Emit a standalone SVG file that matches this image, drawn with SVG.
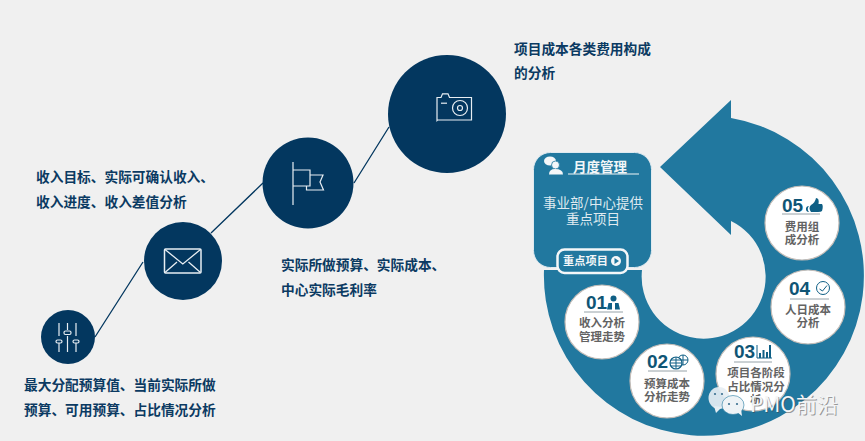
<svg xmlns="http://www.w3.org/2000/svg" width="865" height="441" viewBox="0 0 865 441">
<style>
text{font-family:"Noto Sans CJK SC","Liberation Sans",sans-serif}
.big{fill:#03375f}
.cap{font-size:13.7px;font-weight:700;fill:#0b3a62}
.ic{fill:none;stroke:#e8eef3;stroke-width:1.2}
.disc{fill:#fff;stroke:#c4bdb8;stroke-width:1.2}
.num{font-family:"Liberation Sans",sans-serif;font-size:19px;font-weight:700;fill:#0f5575}
.lab{font-size:11.5px;font-weight:700;fill:#636363;text-anchor:middle}
.rule{stroke:#7c8a92;stroke-width:.8}
.tl{fill:#0f5f85}
.ln{fill:none;stroke:#0f5f85;stroke-width:1}
.conn{stroke:#03375f;stroke-width:1.3;fill:none}
</style>
<rect width="865" height="441" fill="#f0f0f0"/>
<g id="connectors">
<path class="conn" d="M95 337L143 262M211 233L263 183M354 183L389 127"/>
</g>
<g id="node-budget">
<circle class="big" cx="68" cy="337" r="27"/>
<path class="ic" d="M59 323V336M59 343V352M67.500 323V330M67.500 336V352M76 323V336M76 343V352"/>
<rect class="ic" x="56" y="340" width="6" height="3" rx="1.500"/><rect class="ic" x="64" y="331" width="7" height="3.500" rx="1.500"/><rect class="ic" x="73" y="340" width="6" height="3" rx="1.500"/>
<text class="cap"><tspan x="24" y="390">最大分配预算值、当前实际所做</tspan><tspan x="24" y="415">预算、可用预算、占比情况分析</tspan></text>
</g>
<g id="node-income">
<circle class="big" cx="183" cy="261" r="39"/>
<rect x="164.500" y="249" width="36.500" height="24" rx="1" fill="none" stroke="#e8eef3" stroke-width="1.500"/>
<path d="M165 249.500L182.800 264L200.500 249.500M165 272.500L177 262M200.500 272.500L188.500 262" fill="none" stroke="#e8eef3" stroke-width="1.300"/>
<text class="cap"><tspan x="36" y="182">收入目标、实际可确认收入、</tspan><tspan x="36" y="207">收入进度、收入差值分析</tspan></text>
</g>
<g id="node-actual">
<circle class="big" cx="308" cy="183" r="45.500"/>
<path class="ic" d="M293 162V205M293 170H310V186H293M310 175H323L320 182L323.500 190H306.500V186"/>
<text class="cap"><tspan x="281" y="270">实际所做预算、实际成本、</tspan><tspan x="281" y="295">中心实际毛利率</tspan></text>
</g>
<g id="node-cost">
<circle class="big" cx="447" cy="114" r="59"/>
<path class="ic" d="M437 120.500V97.500H441L442.500 93.800H448L449.500 97.500H471.500V120H437.500Z"/>
<path class="ic" d="M441 103.200H447"/>
<circle class="ic" cx="460" cy="108" r="7.500"/><circle class="ic" cx="460" cy="108" r="2.500"/>
<text class="cap"><tspan x="514" y="54">项目成本各类费用构成</tspan><tspan x="514" y="78">的分析</tspan></text>
</g>
<g id="cycle-arrow">
<path fill="#21789f" d="M731 100V118A160 160 0 1 1 544 270H642A62 62 0 1 0 731 221V235L660 167Z"/>
</g>
<g id="node-monthly">
<rect x="533.500" y="152.500" width="118" height="115" rx="17" fill="#21789f" stroke="#dfeaf0" stroke-width="1"/>
<path d="M568 174H639" stroke="#f2f6f8" stroke-width="1.200"/>
<ellipse cx="550" cy="161" rx="6" ry="4.500" fill="#f4f7f9"/><circle cx="555.500" cy="165" r="4" fill="#f4f7f9" stroke="#21789f" stroke-width=".8"/>
<path d="M549 174.500Q549 169 555 169Q563 169 563 174.500Z" fill="#f4f7f9"/>
<text x="600" y="172" font-size="13.500" font-weight="700" fill="#f2f6f8" text-anchor="middle">月度管理</text>
<text font-size="13.500" fill="#dfeaf0" text-anchor="middle"><tspan x="593" y="208">事业部/中心提供</tspan><tspan x="593" y="224">重点项目</tspan></text>
<rect x="557.500" y="249.500" width="70" height="23.500" rx="7" fill="#21789f" stroke="#f4f7f9" stroke-width="2.500"/>
<text x="585.500" y="265" font-size="11.200" font-weight="700" fill="#f2f6f8" text-anchor="middle">重点项目</text>
<circle cx="616" cy="261" r="5" fill="#f4f7f9"/><path d="M614.500 258V264L619 261Z" fill="#21789f"/>
</g>
<g id="node-01">
<circle class="disc" cx="602" cy="322" r="37"/>
<text class="num" x="586" y="309">01</text>
<circle cx="613.500" cy="298.500" r="3" fill="#0f5f85"/><path class="tl" d="M607 309.500L608.500 303H612V309.500ZM615 309.500V303H618.500L620 309.500Z"/>
<path class="rule" d="M584 312H623"/>
<text class="lab"><tspan x="602" y="327">收入分析</tspan><tspan x="602" y="341">管理走势</tspan></text>
</g>
<g id="node-02">
<circle class="disc" cx="667" cy="381" r="37"/>
<text class="num" x="647" y="368">02</text>
<circle cx="683" cy="360" r="5" class="ln"/><path class="ln" d="M683 355V365M678 360H688"/>
<circle cx="676" cy="363" r="6" fill="#fff" stroke="#0f5f85" stroke-width="1.200"/><path class="ln" d="M670 363H682M671 360H681M671 366H681M676 357V369" stroke-width=".7"/>
<path class="rule" d="M648 371H687"/>
<text class="lab"><tspan x="667" y="388">预算成本</tspan><tspan x="667" y="401">分析走势</tspan></text>
</g>
<g id="node-03">
<circle class="disc" cx="753" cy="374" r="37"/>
<text class="num" x="734" y="358">03</text>
<path class="ln" d="M757 345V358H772"/><path class="tl" d="M759 353h2v5h-2zM762.500 350h2v8h-2zM766 352h2v6h-2zM769 345h2v13h-2z"/>
<path class="rule" d="M734 362H772"/>
<text class="lab"><tspan x="756" y="377">项目各阶段</tspan><tspan x="756" y="391">占比情况分</tspan><tspan x="756" y="404">析</tspan></text>
</g>
<g id="node-04">
<circle class="disc" cx="808" cy="307" r="37"/>
<text class="num" x="789" y="295">04</text>
<circle cx="823" cy="288" r="6.500" class="ln"/><path class="ln" d="M819.500 289L822.500 291L827 285.500"/>
<path class="rule" d="M790 299H829"/>
<text class="lab"><tspan x="808" y="314">人日成本</tspan><tspan x="808" y="327">分析</tspan></text>
</g>
<g id="node-05">
<circle class="disc" cx="802" cy="223" r="37"/>
<text class="num" x="782" y="212">05</text>
<path class="tl" d="M811 205Q815 203 816 198Q819.500 198 818.500 204H822Q823.500 206 822 211Q821 212 818 212H811Q808 208 811 205ZM809 206Q806.500 209 809 212Q805.500 212 806 208Q806.500 206 809 206Z"/>
<path class="rule" d="M782 214H820"/>
<text class="lab"><tspan x="802" y="231">费用组</tspan><tspan x="802" y="244">成分析</tspan></text>
</g>
<g id="watermark">
<ellipse cx="719" cy="398" rx="10.500" ry="11" fill="#e6eef3" opacity=".92"/><path d="M714 406L716 413L722 407Z" fill="#e6eef3"/>
<ellipse cx="733" cy="405" rx="11" ry="9.500" fill="#eef3f6" stroke="#21789f" stroke-width=".6"/><path d="M737 412L742 416L741 409Z" fill="#eef3f6"/>
<circle cx="729" cy="404" r="1.100" fill="#3a6f8f"/><circle cx="737" cy="404" r="1.100" fill="#3a6f8f"/><circle cx="715" cy="394" r="1.100" fill="#3a6f8f"/><circle cx="722" cy="394" r="1.100" fill="#3a6f8f"/>
<text x="750" y="412" font-size="21" fill="#444" opacity=".5" transform="translate(1 1)">PMO前沿</text>
<text x="750" y="412" font-size="21" fill="#f4f6f8">PMO前沿</text>
</g>
</svg>
